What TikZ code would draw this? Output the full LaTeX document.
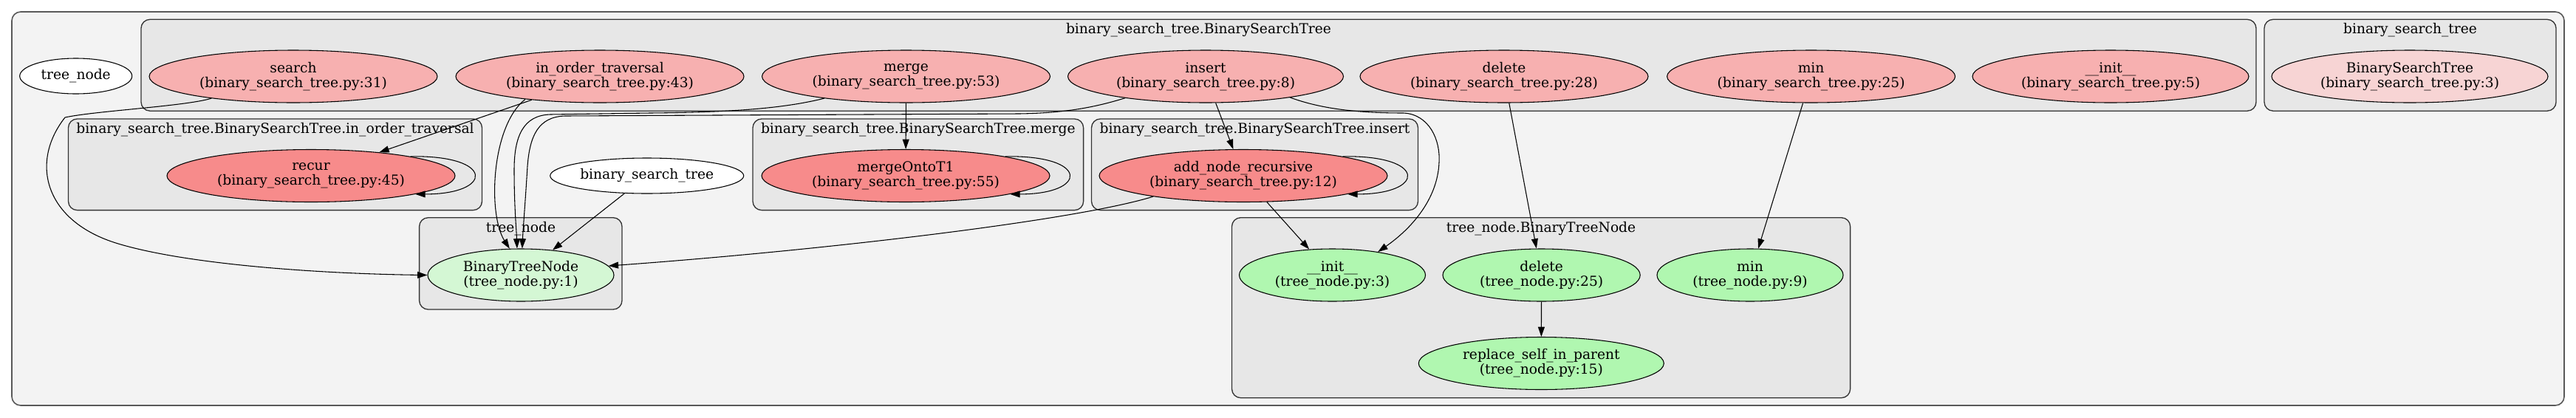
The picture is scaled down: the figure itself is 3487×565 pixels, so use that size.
\documentclass[tikz,border=0pt]{standalone}
\usepackage{fontspec}
\setmainfont{DejaVu Serif}
\usetikzlibrary{shapes.geometric,arrows.meta}
\definecolor{outerfill}{RGB}{243,243,243}
\definecolor{clusfill}{RGB}{231,231,231}
\definecolor{bstmfill}{RGB}{247,176,176}
\definecolor{recfill}{RGB}{247,139,139}
\definecolor{bstcfill}{RGB}{247,212,212}
\definecolor{tnmfill}{RGB}{176,247,176}
\definecolor{btnfill}{RGB}{212,247,212}
\begin{document}
\begin{tikzpicture}[x=0.75pt,y=-0.75pt,
  font=\fontsize{14}{14.85}\selectfont,
  every node/.style={align=center, inner sep=0pt},
  fnode/.style={ellipse, draw=black, line width=0.8pt, minimum height=53.25pt},
  bstm/.style={fnode, fill=bstmfill},
  recn/.style={fnode, fill=recfill},
  bstc/.style={fnode, fill=bstcfill},
  tnm/.style={fnode, fill=tnmfill},
  btnn/.style={fnode, fill=btnfill},
  plainn/.style={ellipse, draw=black, line width=0.8pt, fill=white, minimum height=36pt},
  outerbox/.style={draw=black!65, line width=1.2pt, fill=outerfill, rounded corners=9pt},
  clus/.style={draw=black!80, line width=1pt, fill=clusfill, rounded corners=9pt},
  edge/.style={draw=black, line width=0.8pt, -{Triangle[length=10pt,width=6.7pt]}}
]
\useasboundingbox (0,0) rectangle (3487,565);

% clusters
\draw[outerbox] (16,16) rectangle (3471,549);
\draw[clus] (191,26.3) rectangle (3054,150.2);
\draw[clus] (3065,26.3) rectangle (3460,150.2);
\draw[clus] (92.5,161) rectangle (652.5,284.6);
\draw[clus] (1019,161) rectangle (1466.6,284.6);
\draw[clus] (1477.5,161) rectangle (1919.5,284.6);
\draw[clus] (567.6,294.7) rectangle (842,419);
\draw[clus] (1667.5,294.7) rectangle (2504.6,538.7);

% cluster labels
\node (l1) at (1622.5,40.7) {binary\_search\_tree.BinarySearchTree};
\node (l2) at (3262.5,40.7) {binary\_search\_tree};
\node (l3) at (372.5,175.5) {binary\_search\_tree.BinarySearchTree.in\_order\_traversal};
\node (l4) at (1242.8,175.5) {binary\_search\_tree.BinarySearchTree.merge};
\node (l5) at (1698.5,175.5) {binary\_search\_tree.BinarySearchTree.insert};
\node (l6) at (705,310) {tree\_node};
\node (l7) at (2086,310) {tree\_node.BinaryTreeNode};

% top row
\node[plainn, minimum width=114pt] (tnp) at (102.7,103) {tree\_node};
\node[bstm, minimum width=292.5pt] (search) at (397,103.5) {search\\(binary\_search\_tree.py:31)};
\node[bstm, minimum width=292.5pt] (iot) at (812,103.5) {in\_order\_traversal\\(binary\_search\_tree.py:43)};
\node[bstm, minimum width=292.5pt] (merge) at (1226.5,103.5) {merge\\(binary\_search\_tree.py:53)};
\node[bstm, minimum width=279.75pt] (insert) at (1632,103.5) {insert\\(binary\_search\_tree.py:8)};
\node[bstm, minimum width=292.5pt] (delb) at (2036,103.5) {delete\\(binary\_search\_tree.py:28)};
\node[bstm, minimum width=292.5pt] (minb) at (2451.6,103.5) {min\\(binary\_search\_tree.py:25)};
\node[bstm, minimum width=280.5pt] (initb) at (2857,103.5) {\_\_init\_\_\\(binary\_search\_tree.py:5)};
\node[bstc, minimum width=280.5pt] (bstcl) at (3262,103.5) {BinarySearchTree\\(binary\_search\_tree.py:3)};

% middle row
\node[recn, minimum width=292.5pt] (recur) at (421,238) {recur\\(binary\_search\_tree.py:45)};
\node[plainn, minimum width=196.5pt] (bstp) at (875.7,238) {binary\_search\_tree};
\node[recn, minimum width=292.5pt] (mot) at (1226,238) {mergeOntoT1\\(binary\_search\_tree.py:55)};
\node[recn, minimum width=292.5pt] (anr) at (1683,238) {add\_node\_recursive\\(binary\_search\_tree.py:12)};

% bottom rows
\node[btnn, minimum width=189pt] (btn) at (705,372.5) {BinaryTreeNode\\(tree\_node.py:1)};
\node[tnm, minimum width=189pt] (initt) at (1803.5,372.5) {\_\_init\_\_\\(tree\_node.py:3)};
\node[tnm, minimum width=200.4pt] (delt) at (2086.6,372.5) {delete\\(tree\_node.py:25)};
\node[tnm, minimum width=189pt] (mint) at (2369,372.5) {min\\(tree\_node.py:9)};
\node[tnm, minimum width=249pt] (rep) at (2086.3,492) {replace\_self\_in\_parent\\(tree\_node.py:15)};

% edges
\draw[edge] (search.195) .. controls (250,144) and (130,150) .. (88,159) .. controls (40,220) and (60,300) .. (160,330) .. controls (260,360) and (450,371) .. (btn.west);
\draw[edge] (iot.199) -- (recur);
\draw[edge] (iot.197) .. controls (665,170) and (660,290) .. (btn.113);
\draw[edge] (merge.195) .. controls (1060,147) and (990,152) .. (880,153) -- (745,155) .. controls (708,156) and (696,185) .. (696,230) .. controls (696,280) and (699,310) .. (btn.98);
\draw[edge] (insert.195) .. controls (1480,146) and (1440,153) .. (1380,154) -- (765,157) .. controls (728,158) and (717,185) .. (714,225) .. controls (711,275) and (708,310) .. (btn.87);
\draw[edge] (bstp) -- (btn);
\draw[edge] (anr.193) .. controls (1450,300) and (1100,340) .. (btn.6);
\draw[edge] (anr) -- (initt);
\draw[edge] (insert) -- (anr);
\draw[edge] (merge) -- (mot);
\draw[edge] (insert.346) .. controls (1790,148) and (1840,153) .. (1900,153) .. controls (1935,155) and (1950,190) .. (1948,220) .. controls (1946,270) and (1910,310) .. (initt.27);
\draw[edge] (delb) -- (delt);
\draw[edge] (minb) -- (mint);
\draw[edge] (delt) -- (rep);
% self loops
\draw[edge] (recur.11) .. controls +(115,-2) and +(106,0) .. (recur.350);
\draw[edge] (mot.11) .. controls +(115,-2) and +(106,0) .. (mot.350);
\draw[edge] (anr.11) .. controls +(115,-2) and +(106,0) .. (anr.350);
\end{tikzpicture}
\end{document}
